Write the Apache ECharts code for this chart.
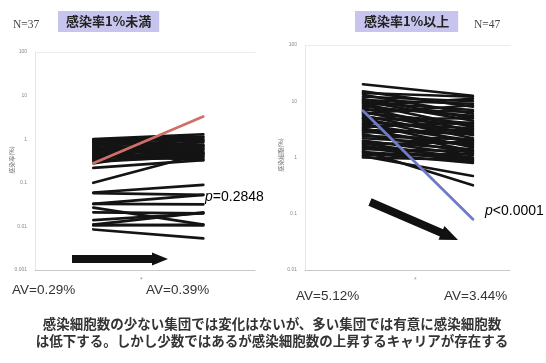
<!DOCTYPE html>
<html>
<head>
<meta charset="utf-8">
<script src="https://cdn.jsdelivr.net/npm/echarts@6/dist/echarts.min.js"></script>
<style>
html,body{margin:0;padding:0;background:#fff;}
#chart{width:546px;height:363px;}
</style>
</head>
<body>
<div id="chart"></div>
<script>
// Infection rate (%) of each carrier at the first and second measurement
// Group with infection rate < 1% (N=37)
const lowStart = [1.0, 0.98, 0.95, 0.9, 0.85, 0.8, 0.75, 0.7, 0.65, 0.62, 0.6, 0.55,
  0.52, 0.5, 0.48, 0.45, 0.42, 0.4, 0.38, 0.35, 0.33, 0.3, 0.28, 0.22,
  0.1, 0.06, 0.058, 0.033, 0.033, 0.027, 0.021, 0.014, 0.011, 0.011, 0.0105, 0.0085];
const lowEnd = [1.3, 1.15, 0.7, 1.0, 0.6, 1.1, 0.5, 0.95, 0.45, 0.4, 0.85, 0.65,
  0.35, 0.55, 0.75, 0.33, 0.9, 0.5, 0.45, 0.6, 0.38, 0.42, 0.7, 0.33,
  0.47, 0.09, 0.053, 0.053, 0.032, 0.011, 0.02, 0.02, 0.021, 0.0105, 0.011, 0.0053];
const lowRiseStart = [0.28];
const lowRiseEnd = [3.3];

// Group with infection rate >= 1% (N=47)
const highStart = [20, 15, 14, 13, 12, 11, 10.5, 10, 9.5, 9, 8.5, 8, 7.5, 7, 6.5, 6.2,
  6, 5.6, 5.2, 5, 4.8, 4.5, 4.2, 4, 3.8, 3.5, 3.3, 3.1, 3, 2.8, 2.6, 2.4, 2.2, 2,
  1.9, 1.8, 1.7, 1.6, 1.5, 1.4, 1.3, 1.25, 1.2, 1.1, 1.05, 1.0];
const highEnd = [12.5, 8, 12, 6, 10, 5, 9, 4.5, 7, 3.5, 11, 5.5, 3, 6.5, 2.5, 4,
  8.5, 2.2, 3.8, 1.8, 5, 2.8, 3.3, 1.5, 2, 4.2, 1.3, 2.6, 1.6, 3.1, 1.2, 2.1, 1.7, 1.1,
  1.4, 0.9, 1.9, 1, 0.85, 1.3, 0.32, 0.95, 0.8, 1.15, 0.47, 0.9];
const highDropStart = [6.8];
const highDropEnd = [0.08];

const leftTicks = ['0.001', '0.01', '0.1', '1', '10', '100'];
const rightTicks = ['0.01', '0.1', '1', '10', '100'];
const leftTickExp = -3;
const rightTickExp = -2;

const chart = echarts.init(document.getElementById('chart'), null, {renderer: 'canvas'});

function pairSeries(starts, ends, axisIdx, color, width) {
  return starts.map((s, i) => ({
    type: 'line',
    xAxisIndex: axisIdx,
    yAxisIndex: axisIdx,
    data: [[1, s], [2, ends[i]]],
    symbol: 'none',
    silent: true,
    animation: false,
    lineStyle: {color: color, width: width, cap: 'round'}
  }));
}

function arrowPoints(x0, y0, x1, y1, shaftW, headW, headL) {
  const dx = x1 - x0, dy = y1 - y0;
  const len = Math.sqrt(dx * dx + dy * dy);
  const ux = dx / len, uy = dy / len;
  const px = -uy, py = ux;
  const bx = x1 - ux * headL, by = y1 - uy * headL;
  const s = shaftW / 2, h = headW / 2;
  return [
    [x0 + px * s, y0 + py * s],
    [bx + px * s, by + py * s],
    [bx + px * h, by + py * h],
    [x1, y1],
    [bx - px * h, by - py * h],
    [bx - px * s, by - py * s],
    [x0 - px * s, y0 - py * s]
  ];
}

const faint = '#c8c8c8';
const tickLabel = {fontSize: 5, color: '#888', margin: 8};

function yAxisFor(gridIdx, min, max, ticks, baseExp) {
  return {
    type: 'log', logBase: 10, gridIndex: gridIdx, min: min, max: max,
    axisLine: {show: true, lineStyle: {color: '#e6e6e6', width: 1}},
    axisTick: {show: false},
    splitLine: {show: false},
    axisLabel: Object.assign({}, tickLabel, {
      formatter: v => {
        const k = Math.round(Math.log10(v)) - baseExp;
        return ticks[k] !== undefined ? ticks[k] : '';
      }
    })
  };
}

function xAxisFor(gridIdx, min, max, pos) {
  return {
    type: 'value', gridIndex: gridIdx, min: min, max: max, position: pos,
    axisLine: {show: true, onZero: false, lineStyle: {color: pos === 'top' ? '#ececec' : faint, width: 1}},
    axisTick: {show: false}, axisLabel: {show: false}, splitLine: {show: false}
  };
}

const avFont = '13.5px "Liberation Sans", sans-serif';
const noteFont = 'bold 13.5px "Noto Sans CJK JP", sans-serif';
const pRich = {
  i: {fontStyle: 'italic', fontSize: 14, fontFamily: 'Liberation Sans', color: '#222'},
  n: {fontSize: 14, fontFamily: 'Liberation Sans', color: '#222'}
};
const headStyle = {
  fontSize: 13, fontWeight: 'bold', fontFamily: 'Noto Sans CJK JP', color: '#222222',
  textBorderWidth: 0, textShadowBlur: 0
};

const option = {
  backgroundColor: '#ffffff',
  animation: false,
  title: [
    {text: '感染率1%未満', left: 58, top: 11, backgroundColor: '#c7c4ee',
     padding: [4, 8, 4, 8], itemGap: 0, textStyle: headStyle},
    {text: '感染率1%以上', left: 355, top: 11, backgroundColor: '#c7c4ee',
     padding: [4, 9, 4, 9], itemGap: 0, textStyle: headStyle},
    {text: 'N=37', left: 8, top: 14, textStyle: {fontSize: 11.5, fontWeight: 'normal', fontFamily: 'Liberation Serif', color: '#444'}},
    {text: 'N=47', left: 469, top: 14, textStyle: {fontSize: 11.5, fontWeight: 'normal', fontFamily: 'Liberation Serif', color: '#444'}}
  ],
  grid: [
    {left: 35, top: 52, width: 220, bottom: 93},
    {left: 305, top: 45, width: 205, bottom: 93}
  ],
  xAxis: [
    xAxisFor(0, 0.47, 2.47, 'bottom'),
    xAxisFor(1, 0.473, 2.337, 'bottom'),
    xAxisFor(0, 0.47, 2.47, 'top'),
    xAxisFor(1, 0.473, 2.337, 'top')
  ],
  yAxis: [
    yAxisFor(0, 0.001, 100, leftTicks, leftTickExp),
    yAxisFor(1, 0.01, 100, rightTicks, rightTickExp)
  ],
  series: [].concat(
    pairSeries(lowStart, lowEnd, 0, '#141414', 2.7),
    pairSeries(lowRiseStart, lowRiseEnd, 0, '#cf7068', 2.7),
    pairSeries(highStart, highEnd, 1, '#141414', 2.6),
    pairSeries(highDropStart, highDropEnd, 1, '#6f7bc9', 2.8)
  ),
  graphic: [
    // axis names
    {type: 'text', x: 12, y: 160, rotation: Math.PI / 2, style: {text: '感染率(%)', font: '6px "Noto Sans CJK JP", sans-serif', fill: '#777', align: 'center', verticalAlign: 'middle'}},
    {type: 'text', x: 281, y: 155, rotation: Math.PI / 2, style: {text: '感染細胞(%)', font: '6px "Noto Sans CJK JP", sans-serif', fill: '#777', align: 'center', verticalAlign: 'middle'}},

    // p values
    {type: 'text', left: 205, top: 190, style: {rich: pRich, text: '{i|p}{n|=0.2848}'}},
    {type: 'text', left: 485, top: 204, style: {rich: pRich, text: '{i|p}{n|<0.0001}'}},

    // trend arrows
    {type: 'polygon', shape: {points: arrowPoints(72, 259, 168, 259, 8, 13, 16)}, style: {fill: '#111'}},
    {type: 'polygon', shape: {points: arrowPoints(370, 202, 458, 240, 8, 15, 18)}, style: {fill: '#111'}},

    // averages
    {type: 'text', left: 12, top: 283, style: {text: 'AV=0.29%', font: avFont, fill: '#333'}},
    {type: 'text', left: 140, top: 277, style: {text: '*', font: '7px "Liberation Sans", sans-serif', fill: '#999'}},
    {type: 'text', left: 146, top: 283, style: {text: 'AV=0.39%', font: avFont, fill: '#333'}},
    {type: 'text', left: 296, top: 289, style: {text: 'AV=5.12%', font: avFont, fill: '#333'}},
    {type: 'text', left: 414, top: 277, style: {text: '*', font: '7px "Liberation Sans", sans-serif', fill: '#999'}},
    {type: 'text', left: 444, top: 289, style: {text: 'AV=3.44%', font: avFont, fill: '#333'}},

    // conclusion
    {type: 'text', x: 272, y: 324, style: {text: '感染細胞数の少ない集団では変化はないが、多い集団では有意に感染細胞数', font: noteFont, fill: '#333', align: 'center', verticalAlign: 'middle'}},
    {type: 'text', x: 272, y: 341, style: {text: 'は低下する。しかし少数ではあるが感染細胞数の上昇するキャリアが存在する', font: noteFont, fill: '#333', align: 'center', verticalAlign: 'middle'}}
  ]
};

chart.setOption(option);
</script>
</body>
</html>
